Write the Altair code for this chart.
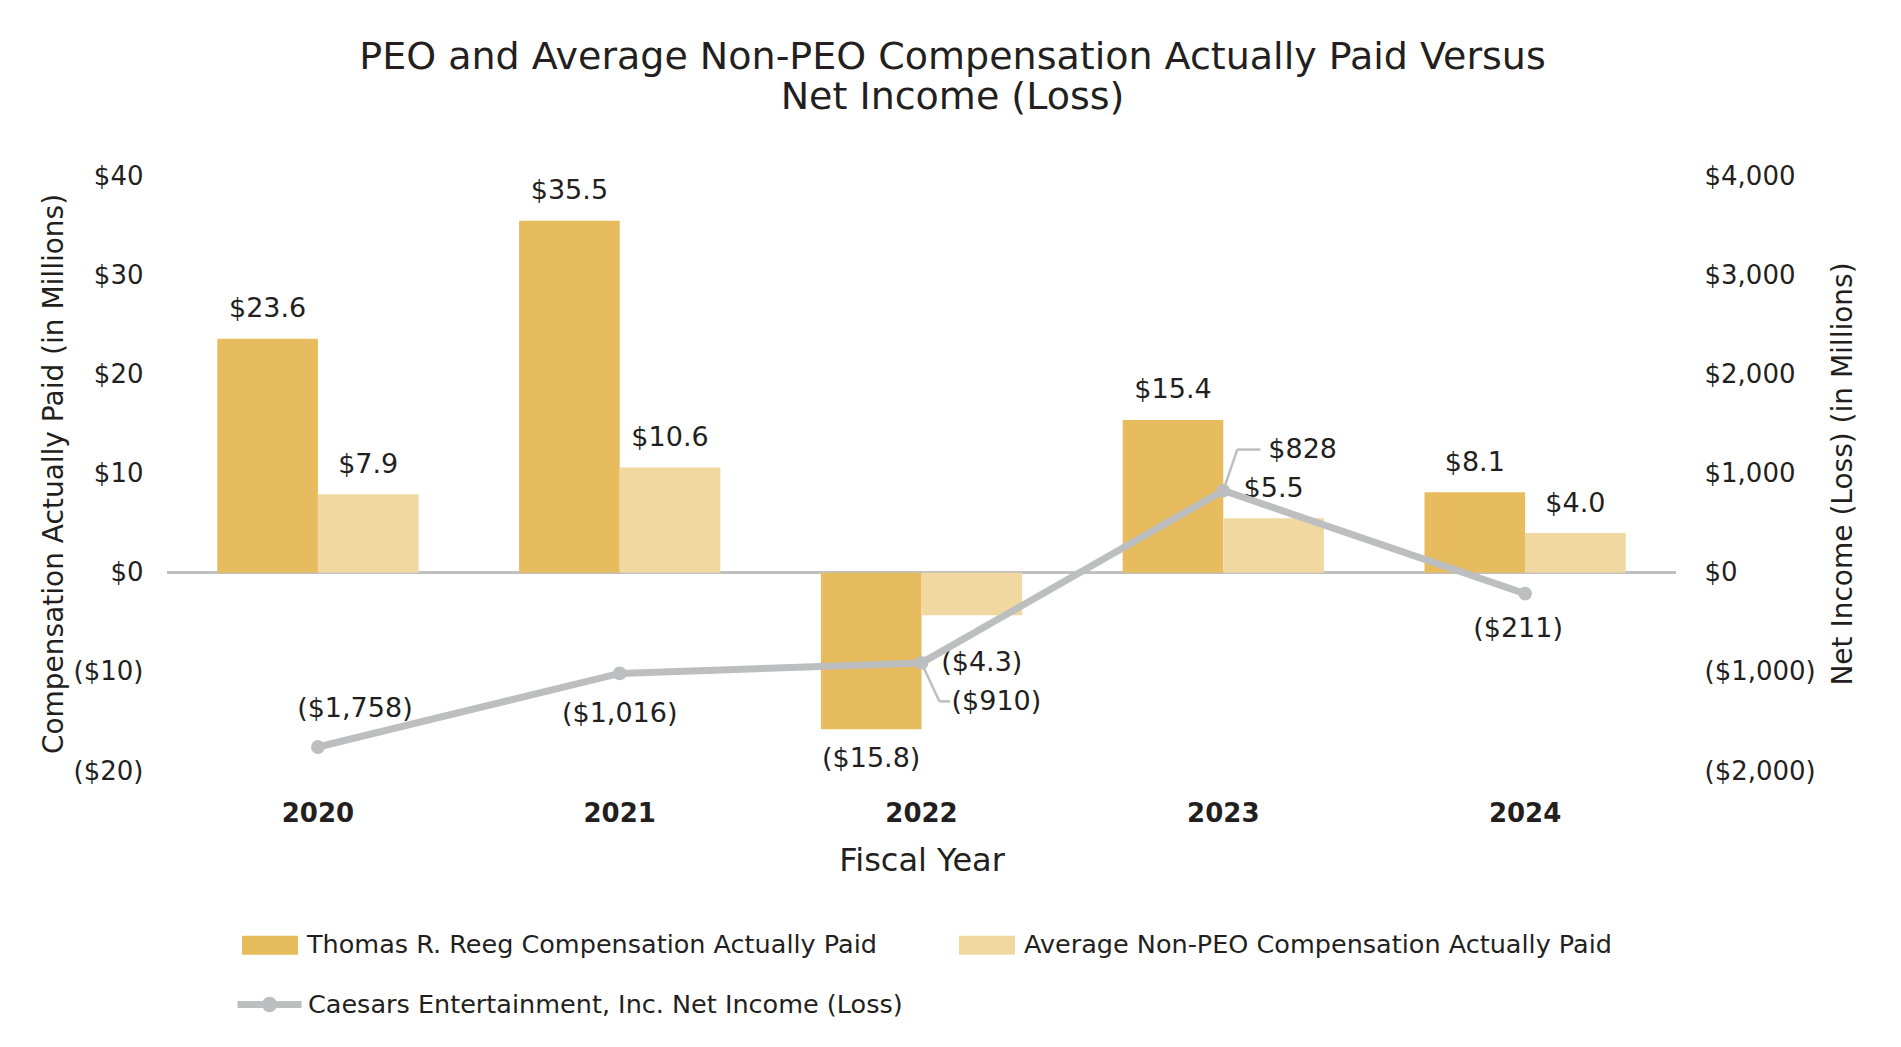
import altair as alt
import pandas as pd

years = ["2020", "2021", "2022", "2023", "2024"]
peo_cap = [23.6, 35.5, -15.8, 15.4, 8.1]
non_peo_cap = [7.9, 10.6, -4.3, 5.5, 4.0]
net_income = [-1758, -1016, -910, 828, -211]

PEO = "Thomas R. Reeg Compensation Actually Paid"
NONPEO = "Average Non-PEO Compensation Actually Paid"
NET = "Caesars Entertainment, Inc. Net Income (Loss)"

FONT = "DejaVu Sans"
TXT = "#231F20"
C_PEO = "#E6BC5E"
C_NON = "#F0D8A0"
C_LINE = "#BDBEC0"


def money(v, dec):
    s = f"{abs(v):,.{dec}f}"
    return f"(${s})" if v < 0 else f"${s}"


rows = []
for y, a, b in zip(years, peo_cap, non_peo_cap):
    rows.append({"year": y, "series": PEO, "value": a, "label": money(a, 1)})
    rows.append({"year": y, "series": NONPEO, "value": b, "label": money(b, 1)})
bars_df = pd.DataFrame(rows)

net_df = pd.DataFrame({
    "year": years,
    "net": net_income,
    "label": [money(v, 0) for v in net_income],
    "series": [NET] * len(years),
})

x_enc = alt.X(
    "year:N", sort=years,
    scale=alt.Scale(paddingInner=0.3333, paddingOuter=0.1667),
    axis=alt.Axis(title="Fiscal Year", labelAngle=0, labelFont=FONT, labelFontSize=26,
                  labelFontWeight="bold", labelColor=TXT, labelPadding=29,
                  titleFont=FONT, titleFontSize=32, titleFontWeight="normal",
                  titleColor=TXT, titlePadding=19, domain=False, ticks=False, grid=False),
)
x_off = alt.XOffset("series:N", sort=[PEO, NONPEO],
                    scale=alt.Scale(paddingInner=0, paddingOuter=0))

money_expr = ("datum.value < 0 ? '($' + format(-datum.value, ',') + ')' : "
              "'$' + format(datum.value, ',')")

y_left = alt.Y(
    "value:Q",
    scale=alt.Scale(domain=[-20, 40], nice=False, zero=False),
    axis=alt.Axis(title="Compensation Actually Paid (in Millions)", orient="left",
                  values=[-20, -10, 0, 10, 20, 30, 40], labelExpr=money_expr,
                  labelFont=FONT, labelFontSize=26, labelColor=TXT, labelPadding=24,
                  titleFont=FONT, titleFontSize=28, titleFontWeight="normal",
                  titleColor=TXT, titlePadding=5, titleAngle=270,
                  domain=False, ticks=False, grid=False),
)

y_right = alt.Y(
    "net:Q",
    scale=alt.Scale(domain=[-2000, 4000], nice=False, zero=False),
    axis=alt.Axis(title="Net Income (Loss) (in Millions)", orient="right",
                  values=[-2000, -1000, 0, 1000, 2000, 3000, 4000], labelExpr=money_expr,
                  labelFont=FONT, labelFontSize=26, labelColor=TXT, labelPadding=28,
                  titleFont=FONT, titleFontSize=28, titleFontWeight="normal",
                  titleColor=TXT, titlePadding=42, titleAngle=270,
                  domain=False, ticks=False, grid=False),
)

base_b = alt.Chart(bars_df)

bars = base_b.mark_bar().encode(
    x=x_enc, xOffset=x_off, y=y_left,
    color=alt.Color(
        "series:N", sort=[PEO, NONPEO],
        scale=alt.Scale(domain=[PEO, NONPEO], range=[C_PEO, C_NON]),
        legend=alt.Legend(title=None, orient="none", legendX=75, legendY=741,
                          direction="horizontal", columns=2, columnPadding=82,
                          symbolType="M-1,-0.34H1V0.34H-1Z", symbolSize=3136,
                          symbolStrokeWidth=0, labelFont=FONT, labelFontSize=25.5,
                          labelColor=TXT, labelOffset=9, labelLimit=2000, padding=0),
    ),
)

zero = base_b.mark_rule(color="#BFBFBF", strokeWidth=2).encode(y=alt.datum(0))

special = "datum.year == '2022' && datum.series == '" + NONPEO + "'"
lab_kw = dict(font=FONT, fontSize=27, color=TXT, baseline="middle", align="center")
lab_pos = base_b.transform_filter("datum.value >= 0").mark_text(dy=-29.5, **lab_kw).encode(
    x=x_enc, xOffset=x_off, y=y_left, text="label:N")
lab_neg = base_b.transform_filter("datum.value < 0 && !(" + special + ")").mark_text(
    dy=29.5, **lab_kw).encode(x=x_enc, xOffset=x_off, y=y_left, text="label:N")
lab_spec = base_b.transform_filter(special).mark_text(dy=48, dx=10, **lab_kw).encode(
    x=x_enc, xOffset=x_off, y=y_left, text="label:N")

bar_layer = alt.layer(zero, bars, lab_pos, lab_neg, lab_spec)

base_n = alt.Chart(net_df)
line = base_n.mark_line(strokeWidth=7).encode(
    x=x_enc, y=y_right,
    stroke=alt.Stroke(
        "series:N", scale=alt.Scale(domain=[NET], range=[C_LINE]),
        legend=alt.Legend(title=None, orient="none", legendX=67, legendY=793,
                          symbolType="M-1,0H1M0.13,0A0.13,0.13 0 1 1 -0.13,0A0.13,0.13 0 1 1 0.13,0Z",
                          symbolSize=4096, symbolStrokeWidth=7, symbolFillColor=C_LINE,
                          labelFont=FONT, labelFontSize=25.5, labelColor=TXT,
                          labelOffset=3, labelLimit=2000, padding=0),
    ),
)
pts = base_n.mark_circle(size=190, color=C_LINE, opacity=1).encode(x=x_enc, y=y_right)

nlab_kw = dict(font=FONT, fontSize=27, color=TXT, baseline="middle")


def net_label(year, dx, dy, align="center"):
    return base_n.transform_filter(f"datum.year == '{year}'").mark_text(
        dx=dx, dy=dy, align=align, **nlab_kw).encode(x=x_enc, y=y_right, text="label:N")


nl = [
    net_label("2020", 37, -38),
    net_label("2021", 0, 41),
    net_label("2022", 30, 39, "left"),
    net_label("2023", 45, -41, "left"),
    net_label("2024", -7, 35),
]

lead_kw = dict(color=C_LINE, strokeWidth=2.5)


def leader(year, x1, y1, x2, y2):
    return base_n.transform_filter(f"datum.year == '{year}'").mark_rule(
        xOffset=x1, yOffset=y1, x2Offset=x2, y2Offset=y2, **lead_kw).encode(
        x=x_enc, y=y_right, x2="year:N", y2="net:Q")


leaders = [
    leader("2022", 0, 0, 18, 38.5),
    leader("2022", 18, 38.5, 28.5, 38.5),
    leader("2023", 0, 0, 14, -41),
    leader("2023", 14, -41, 37, -41),
]

line_layer = alt.layer(*leaders, line, pts, *nl)

chart = alt.layer(bar_layer, line_layer).resolve_scale(
    y="independent", color="independent", stroke="independent"
).properties(
    width=1509, height=595,
    background="white",
    title=alt.TitleParams(
        text=["PEO and Average Non-PEO Compensation Actually Paid Versus", "Net Income (Loss)"],
        font=FONT, fontSize=38, fontWeight="normal", color=TXT, lineHeight=40,
        anchor="middle", dx=31, offset=46),
    autosize=alt.AutoSizeParams(type="none"),
    padding={"left": 159, "top": 168, "right": 217, "bottom": 262},
).configure_view(strokeWidth=0, stroke="transparent")

chart.save("out.html", embed_options={"renderer": "svg", "actions": False})
